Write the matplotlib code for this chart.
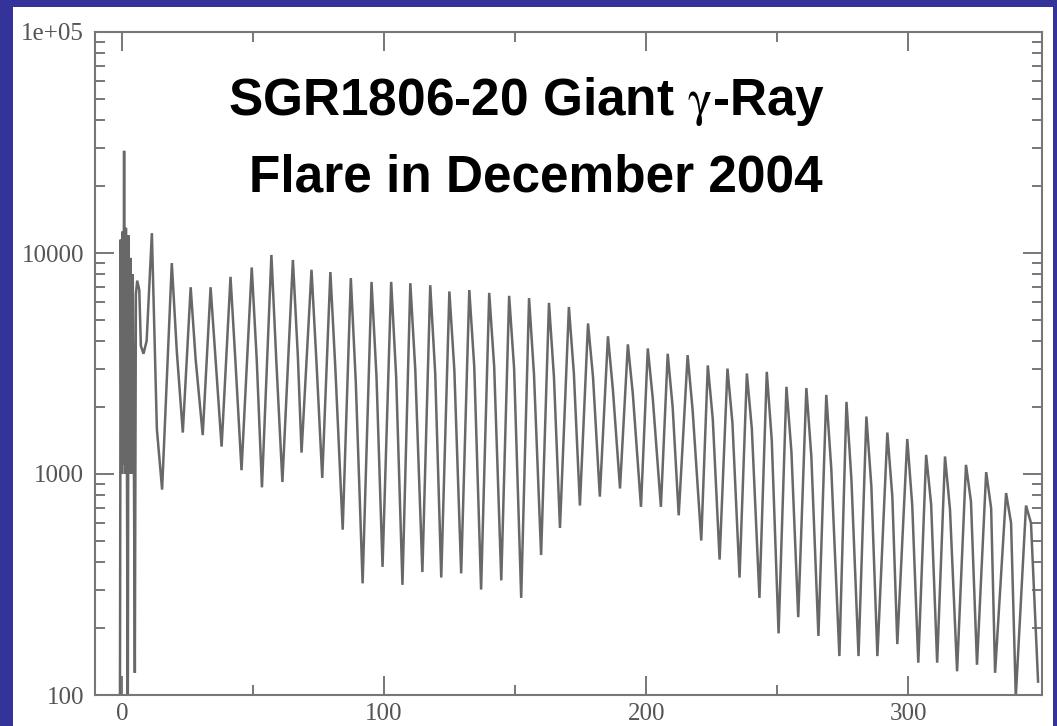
import matplotlib
matplotlib.use('Agg')
import matplotlib.pyplot as plt
from matplotlib.patches import Rectangle
from matplotlib.ticker import FixedLocator, FixedFormatter, LogLocator, NullFormatter

plt.rcParams['mathtext.fontset'] = 'stix'

# ---------------- data ----------------
# initial spike of the giant flare (time s, counts)
spike_t = [-0.8, -0.5, -0.2, 0.2, 0.5, 0.8, 1.1, 1.5, 1.9, 2.2, 2.5, 2.9, 3.3, 3.7,
           4.1, 4.5, 4.9, 5.3, 5.8, 6.6, 7.2, 8.2, 9.4]
spike_c = [60, 11500, 1000, 12500, 1100, 29000, 1000, 13000, 1000, 60, 12000, 1000,
           9500, 1000, 8000, 1500, 126, 6500, 7500, 6800, 3800, 3500, 4000]

# pulsating tail: main peak, shoulder and trough of each 7.6 s cycle
peak_t = [11.4, 19.0, 26.2, 33.8, 41.4, 49.5, 57.0, 65.2, 72.3, 79.5,
          87.3, 95.2, 102.7, 110.0, 117.6, 124.9, 132.5, 140.1, 147.7, 155.3,
          162.9, 170.5, 177.8, 185.4, 193.0, 200.6, 208.2, 215.8, 223.5, 231.0,
          238.4, 246.0, 253.5, 261.1, 268.7, 276.4, 284.0, 292.0, 299.6, 306.8,
          314.0, 322.0, 329.7, 337.3, 344.9]
peak_c = [12300, 9000, 7000, 7000, 7800, 8600, 9800, 9300, 8400, 8200,
          7700, 7400, 7400, 7300, 7150, 6700, 6800, 6600, 6400, 6250,
          5950, 5700, 4800, 4200, 3860, 3700, 3500, 3450, 3100, 3000,
          2850, 2900, 2480, 2450, 2280, 2120, 1820, 1540, 1440, 1220,
          1200, 1100, 1020, 820, 720]
shoulder_t = [13.3, 20.9, 28.1, 35.7, 43.3, 51.4, 58.9, 67.1, 74.2, 81.4,
              89.2, 97.1, 104.6, 111.9, 119.5, 126.8, 134.4, 142.0, 149.6, 157.2,
              164.8, 172.4, 179.7, 187.3, 194.9, 202.5, 210.1, 217.7, 225.4, 232.9,
              240.3, 247.9, 255.4, 263.0, 270.6, 278.3, 285.9, 293.9, 301.5, 308.7,
              315.9, 323.9, 331.6, 339.2, 346.8]
shoulder_c = [1600, 3600, 3300, 3300, 3200, 3300, 3200, 3400, 3200, 3000,
              2600, 2750, 2750, 2950, 2850, 2950, 3050, 3050, 3000, 2800,
              2750, 2850, 2750, 2400, 2300, 2200, 2000, 1950, 1770, 1700,
              1600, 1420, 1260, 1200, 1060, 940, 880, 790, 720, 730,
              690, 750, 700, 600, 600]
trough_t = [15.3, 23.2, 30.8, 38.0, 45.6, 53.4, 61.2, 68.5, 76.4, 84.2,
            91.8, 99.4, 107.0, 114.6, 121.8, 129.4, 137.0, 144.7, 152.3, 159.9,
            167.1, 174.7, 182.3, 190.0, 198.0, 205.6, 212.4, 221.0, 228.0, 235.6,
            243.2, 250.5, 258.0, 265.7, 273.7, 281.0, 288.2, 295.8, 303.8, 311.0,
            318.6, 326.2, 333.1, 341.0, 349.5]
trough_c = [850, 1540, 1500, 1330, 1040, 870, 920, 1250, 960, 560,
            320, 380, 315, 360, 340, 355, 300, 330, 275, 430,
            570, 720, 790, 860, 710, 710, 650, 500, 410, 340,
            275, 190, 225, 185, 150, 150, 150, 170, 140, 140,
            128, 137, 126, 98, 115]

x_ticks = [0, 100, 200, 300]
x_minor = [50, 150, 250]
y_ticks = [100, 1000, 10000, 100000]
y_labels = ['100', '1000', '10000', '1e+05']
title_lines = [r'SGR1806-20 Giant $\mathrm{\gamma}$-Ray', 'Flare in December 2004']

# ---------------- build the light curve ----------------
t = list(spike_t)
c = list(spike_c)
for i in range(len(peak_t)):
    t += [peak_t[i], shoulder_t[i], trough_t[i]]
    c += [peak_c[i], shoulder_c[i], trough_c[i]]

W, H = 1057, 726
fig = plt.figure(figsize=(W / 100, H / 100), dpi=100, facecolor='#333399')
fig.patches.append(Rectangle((13 / W, 0), (1053 - 13) / W, (726 - 7) / H,
                             transform=fig.transFigure, facecolor='white',
                             edgecolor='none', zorder=-10))

ax = fig.add_axes([95 / W, (H - 695) / H, (1042 - 95) / W, (695 - 32) / H])
ax.set_zorder(5)
ax.set_facecolor('white')
ax.plot(t, c, color='#686868', lw=1.8, solid_joinstyle='miter')
ax.set_yscale('log')
ax.set_xlim(-10.3, 351)
ax.set_ylim(100, 1e5)

gray = '#777777'
for s in ax.spines.values():
    s.set_color(gray)
    s.set_linewidth(1.5)

ax.xaxis.set_major_locator(FixedLocator(x_ticks))
ax.xaxis.set_minor_locator(FixedLocator(x_minor))
ax.yaxis.set_major_locator(FixedLocator(y_ticks))
ax.yaxis.set_major_formatter(FixedFormatter(y_labels))
ax.yaxis.set_minor_locator(LogLocator(base=10, subs=range(2, 10)))
ax.yaxis.set_minor_formatter(NullFormatter())

ax.tick_params(which='both', direction='in', top=True, right=True, color=gray,
               width=1.4, labelcolor='#555555')
ax.tick_params(which='major', length=13.5, pad=8)
ax.tick_params(axis='x', which='major', pad=6)
ax.tick_params(which='minor', length=7)
for lab in ax.get_xticklabels() + ax.get_yticklabels():
    lab.set_fontfamily('Liberation Serif')
    lab.set_fontsize(18)

fig.text(527 / W, 1 - 115 / H, title_lines[0], ha='center', va='baseline',
         fontsize=37, fontweight='bold', family=['Liberation Sans', 'DejaVu Sans'],
         zorder=10)
fig.text(536 / W, 1 - 192 / H, title_lines[1], ha='center', va='baseline',
         fontsize=37, fontweight='bold', family=['Liberation Sans', 'DejaVu Sans'],
         zorder=10)

fig.savefig('out.png', dpi=100, facecolor=fig.get_facecolor())
